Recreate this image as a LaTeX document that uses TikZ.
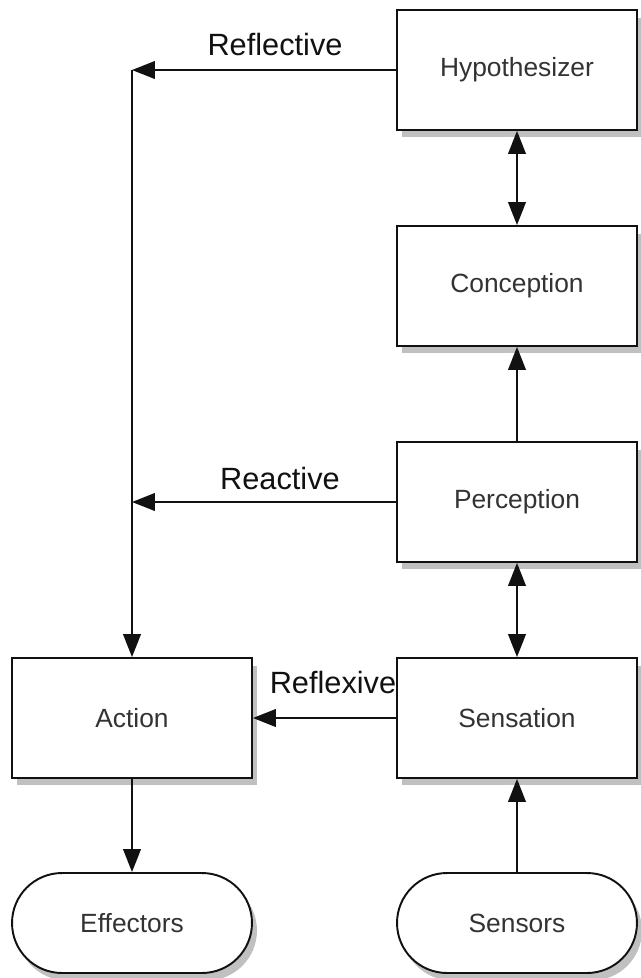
\documentclass[tikz,border=0pt]{standalone}
\usepackage{fontspec}
\setmainfont{Liberation Sans}
\usetikzlibrary{arrows.meta, positioning, shapes.misc, shadows}
\definecolor{cink}{HTML}{111111}
\definecolor{ctext}{HTML}{333333}
\definecolor{cshade}{HTML}{8C8C8C}
\tikzset{
  every picture/.style={line width=1.1pt},
  box/.style={draw=cink, fill=white, minimum width=4.8cm, minimum height=2.4cm, inner sep=0pt,
    font=\fontsize{15}{18}\selectfont, text=ctext,
    drop shadow={shadow xshift=0.1cm, shadow yshift=-0.15cm, fill=cshade, opacity=0.55}},
  pill/.style={box, rounded rectangle, minimum height=2cm},
  arrow/.style={-{Triangle[length=13pt, width=10pt]}, draw=cink},
  twoway/.style={{Triangle[length=13pt, width=10pt]}-{Triangle[length=13pt, width=10pt]}, draw=cink},
  lbl/.style={font=\fontsize{17.5}{21}\selectfont, text=cink, inner sep=2pt},
}

\begin{document}
\begin{tikzpicture}[x=0.02cm, y=-0.02cm]
  \useasboundingbox (0,0) rectangle (641,978);
  % right column
  \node[box] (hyp) at (517,70) {Hypothesizer};
  \node[box] (conc) at (517,286) {Conception};
  \node[box] (perc) at (517,502) {Perception};
  \node[box] (sens) at (517,718) {Sensation};
  \node[pill] (sensors) at (517,923) {Sensors};
  % left column
  \node[box] (act) at (132,718) {Action};
  \node[pill] (eff) at (132,923) {Effectors};
  % joins on the left line
  \coordinate (top) at (act.north |- hyp.west);
  \coordinate (mid) at (act.north |- perc.west);
  \draw[twoway] (hyp) -- (conc);
  \draw[arrow] (perc) -- (conc);
  \draw[twoway] (perc) -- (sens);
  \draw[arrow] (sensors) -- (sens);
  \draw[arrow] (act) -- (eff);
  \draw[arrow] (sens) -- (act);
  \draw[arrow] (hyp.west) -- (top);
  \draw[arrow] (perc.west) -- (mid);
  \draw[arrow] (top) -- (act);
  % labels
  \node[lbl] (reflective) at (275,45) {Reflective};
  \node[lbl] (reactive) at (280,479) {Reactive};
  \node[lbl] (reflexive) at (333,683) {Reflexive};
\end{tikzpicture}
\end{document}
